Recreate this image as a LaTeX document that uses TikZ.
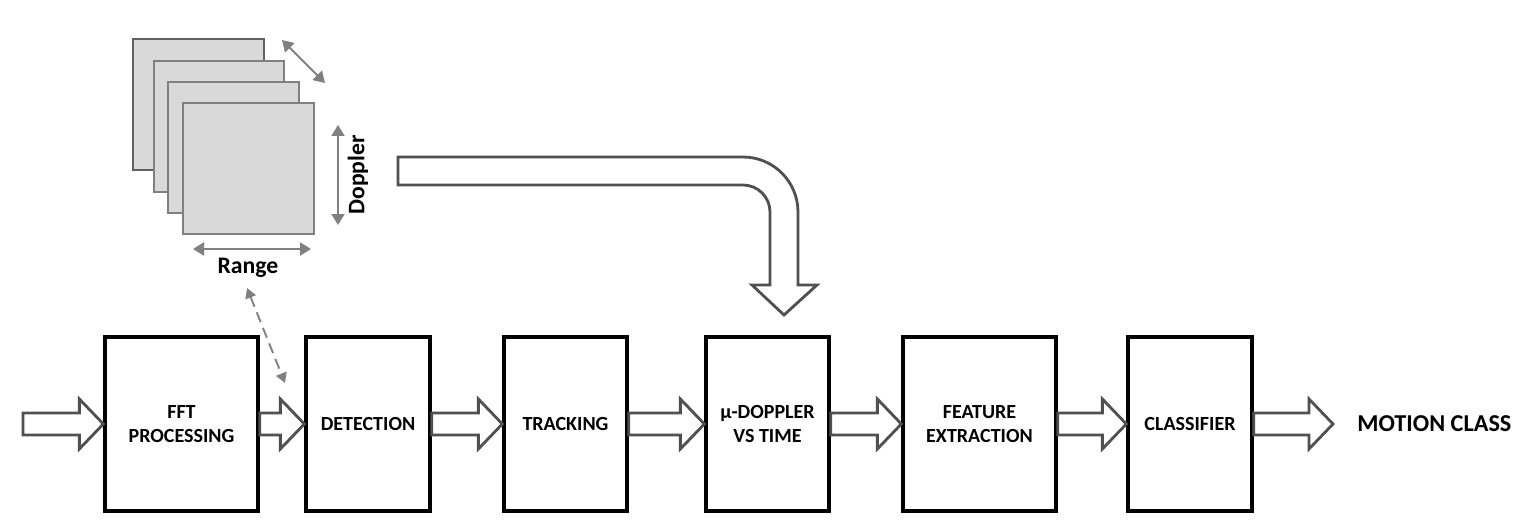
\documentclass[tikz,border=0pt]{standalone}
\usepackage{fontspec}
\setmainfont{Carlito}
\usetikzlibrary{arrows.meta,calc}

\definecolor{arrowgray}{HTML}{505050}
\definecolor{stackgray}{HTML}{808080}
\definecolor{stackfill}{HTML}{D9D9D9}
\definecolor{dashgray}{HTML}{808080}

\tikzset{
  block/.style={draw=black, line width=1.9pt, fill=white, minimum height=3.48cm,
    inner sep=0pt, align=center, font=\bfseries\fontsize{11.4}{13.6}\selectfont},
  fatline/.style={draw=arrowgray, line width=1.6pt, fill=white, line join=miter},
  frame/.style={draw=stackgray, line width=0.9pt, fill=stackfill},
  stackarr/.style={draw=stackgray, line width=1.2pt,
    {Triangle[length=2.2mm,width=2.6mm]}-{Triangle[length=2.2mm,width=2.6mm]}},
  linkarr/.style={draw=dashgray, line width=1.1pt, dash pattern=on 6pt off 3.5pt,
    {Triangle[length=2mm,width=2.2mm]}-{Triangle[length=2mm,width=2.2mm]}},
  axislabel/.style={font=\bfseries\fontsize{13.5}{16}\selectfont}
}

% hollow block arrow from #1 to the tip #2
\newcommand{\fatarrow}[2]{%
  \draw[fatline] ($(#1)+(0,-11)$) -- ($(#2)+(-24,-11)$) -- ($(#2)+(-24,-25)$)
    -- (#2) -- ($(#2)+(-24,25)$) -- ($(#2)+(-24,11)$) -- ($(#1)+(0,11)$) -- cycle;}

\begin{document}
\begin{tikzpicture}[x=0.02cm, y=-0.02cm]

        \useasboundingbox (0,0) rectangle (1521,520);

        % range-doppler maps

        \draw[frame, draw=arrowgray!90] (133,39) rectangle (264,170); % back
        \draw[frame] (154,61) rectangle (284,192);
        \draw[frame] (168,82) rectangle (299,213);
        \draw[frame] (183,103) rectangle (314,234); % front

        \draw[stackarr] (282,40) -- (325,83);
        \draw[stackarr] (338,125) -- (338,225);
        \draw[stackarr] (193,249) -- (311,249);

        \node[axislabel, rotate=90] (doppler) at (358,175) {Doppler};
        \node[axislabel] (range) at (248,268) {Range};

        % processing chain

        \node[block, minimum width=3.06cm] (fft) at (181.5,424) {FFT\\PROCESSING};
        \node[block, minimum width=2.48cm] (det) at (368,424) {DETECTION};
        \node[block, minimum width=2.46cm] (trk) at (565.5,424) {TRACKING};
        \node[block, minimum width=2.46cm] (mud) at (767.5,424) {µ-DOPPLER\\VS TIME};
        \node[block, minimum width=3.06cm] (feat) at (979.5,424) {FEATURE\\EXTRACTION};
        \node[block, minimum width=2.48cm] (cls) at (1190,424) {CLASSIFIER};

        \node[axislabel, font=\bfseries\fontsize{13.8}{16}\selectfont, anchor=west,
          inner sep=0pt] (motion) at (1357,424) {MOTION CLASS};

        \coordinate (in) at (23,424);
        \coordinate (out) at (1333,424);

        \fatarrow{in}{fft.west}
        \fatarrow{fft.east}{det.west}
        \fatarrow{det.east}{trk.west}
        \fatarrow{trk.east}{mud.west}
        \fatarrow{mud.east}{feat.west}
        \fatarrow{feat.east}{cls.west}
        \fatarrow{cls.east}{out}

        % link from the maps to detection

        \coordinate (maplink) at (247,288);
        \coordinate (detlink) at (285,383);
        \draw[linkarr] (maplink) -- (detlink);

        % bent arrow into the micro-doppler block

        \draw[fatline] (398,157) -- (743,157) arc[start angle=90, end angle=0, radius=1.1cm]
          -- (798,285) -- (817,285) -- (784,315) -- (752,285) -- (770,285)
          -- (770,212) arc[start angle=0, end angle=90, radius=0.54cm]
          -- (398,185) -- cycle;

\end{tikzpicture}
\end{document}
